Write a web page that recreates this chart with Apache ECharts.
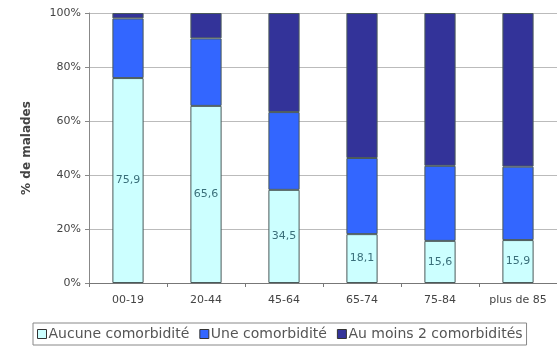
<!DOCTYPE html>
<html>
<head>
<meta charset="utf-8">
<script src="https://cdn.jsdelivr.net/npm/echarts@6/dist/echarts.min.js"></script>
<style>
  html, body { margin: 0; padding: 0; background: #fff; }
  #chart { width: 557px; height: 349px; }
</style>
</head>
<body>
<div id="chart"></div>
<script>
// Age groups and share of patients (%) by number of comorbidities
const categories = ['00-19', '20-44', '45-64', '65-74', '75-84', 'plus de 85'];
const aucune = [75.9, 65.6, 34.5, 18.1, 15.6, 15.9];
const une = [22.1, 25.0, 28.8, 28.2, 27.8, 27.2];
const auMoins2 = [2.0, 9.4, 36.7, 53.7, 56.6, 56.9];
const yTicks = [0, 20, 40, 60, 80, 100];

const chart = echarts.init(document.getElementById('chart'), null, { renderer: 'canvas' });

const FONT = 'DejaVu Sans, Verdana, sans-serif';
const EDGE = '#4a5a5a';

const legendItem = name => ({ name, itemStyle: { borderColor: '#333', borderWidth: 1 } });

chart.setOption({
  animation: false,
  backgroundColor: '#fff',
  textStyle: { fontFamily: FONT },
  grid: { left: 89, right: 0, top: 13, bottom: 66 },
  legend: {
    left: 33,
    bottom: 4,
    icon: 'rect',
    itemWidth: 9,
    itemHeight: 9,
    itemGap: 10,
    padding: [4, 4, 4, 4],
    borderColor: '#888',
    borderWidth: 1,
    textStyle: { fontFamily: FONT, fontSize: 14, color: '#555', padding: [0, 0, 0, -3] },
    data: [
      legendItem('Aucune comorbidité'),
      legendItem('Une comorbidité'),
      legendItem('Au moins 2 comorbidités')
    ]
  },
  xAxis: {
    type: 'category',
    data: categories,
    axisLine: { lineStyle: { color: '#777', width: 1 } },
    axisTick: { show: true, alignWithLabel: false, length: 4, lineStyle: { color: '#777' } },
    axisLabel: { fontFamily: FONT, fontSize: 11, color: '#444', margin: 12 }
  },
  yAxis: {
    type: 'value',
    min: yTicks[0],
    max: yTicks[yTicks.length - 1],
    interval: 20,
    name: '% de malades',
    nameLocation: 'middle',
    nameGap: 56,
    nameTextStyle: { fontFamily: FONT, fontSize: 12, fontWeight: 'bold', color: '#444' },
    axisLine: { show: true, lineStyle: { color: '#888' } },
    axisTick: { show: true, length: 4, lineStyle: { color: '#888' } },
    axisLabel: { fontFamily: FONT, fontSize: 11, color: '#444', margin: 8, formatter: v => v + '%' },
    splitLine: { lineStyle: { color: '#bbb', width: 1 } }
  },
  series: [
    {
      type: 'bar',
      stack: 'total',
      barWidth: '40%',
      name: 'Aucune comorbidité',
      data: aucune,
      itemStyle: { color: '#ccffff', borderColor: EDGE, borderWidth: 1 },
      label: {
        show: true,
        position: 'inside',
        fontFamily: FONT,
        fontSize: 11,
        color: '#3a6f7a',
        formatter: p => String(p.value).replace('.', ',')
      }
    },
    {
      type: 'bar',
      stack: 'total',
      barWidth: '40%',
      name: 'Une comorbidité',
      data: une,
      itemStyle: { color: '#3366ff', borderColor: EDGE, borderWidth: 1 }
    },
    {
      type: 'bar',
      stack: 'total',
      barWidth: '40%',
      name: 'Au moins 2 comorbidités',
      data: auMoins2,
      itemStyle: { color: '#333399', borderColor: EDGE, borderWidth: 1 }
    }
  ]
});
</script>
</body>
</html>
